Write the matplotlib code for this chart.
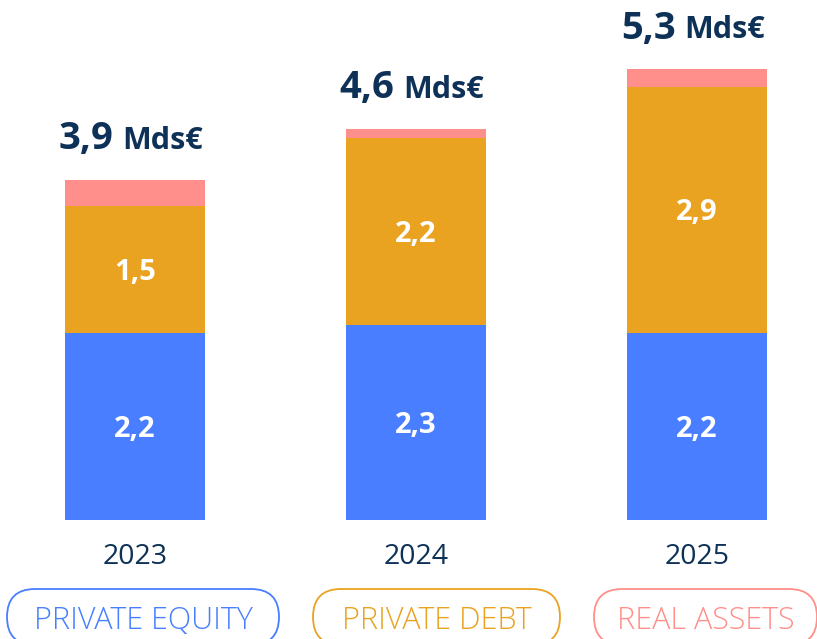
import matplotlib
matplotlib.use("Agg")
import matplotlib.pyplot as plt
from matplotlib.patches import FancyBboxPatch

years = ["2023", "2024", "2025"]
private_equity = [2.2, 2.3, 2.2]
private_debt = [1.5, 2.2, 2.9]
real_assets = [0.3, 0.1, 0.2]
totals = ["3,9", "4,6", "5,3"]
pe_labels = ["2,2", "2,3", "2,2"]
pd_labels = ["1,5", "2,2", "2,9"]
legend_labels = ["PRIVATE EQUITY", "PRIVATE DEBT", "REAL ASSETS"]

BLUE = "#487EFF"
ORANGE = "#E9A320"
PINK = "#FF8F8A"
NAVY = "#0E3157"
FONT = "Open Sans"

W, H = 817, 639
fig = plt.figure(figsize=(W / 100, H / 100), dpi=100)
fig.patch.set_facecolor("white")

px_per_unit = 85.0
base_y = 520
ax = fig.add_axes([0, (H - base_y) / H, 1, base_y / H])
ax.set_ylim(0, base_y / px_per_unit)
sp = 281.0
c0 = 135.0
ax.set_xlim(-c0 / sp, (W - c0) / sp)
ax.axis("off")

x = list(range(len(years)))
bw = 140 / sp
ax.bar(x, private_equity, width=bw, color=BLUE)
ax.bar(x, private_debt, width=bw, bottom=private_equity, color=ORANGE)
bottom3 = [a + b for a, b in zip(private_equity, private_debt)]
ax.bar(x, real_assets, width=bw, bottom=bottom3, color=PINK)

renderer = fig.canvas.get_renderer()
half_digit = 10.5 / px_per_unit
for i in x:
    ax.text(i, private_equity[i] / 2 - half_digit, pe_labels[i], ha="center",
            va="baseline", color="white", fontsize=21, fontweight="bold", family=FONT)
    ax.text(i, private_equity[i] + private_debt[i] / 2 - half_digit, pd_labels[i],
            ha="center", va="baseline", color="white", fontsize=21,
            fontweight="bold", family=FONT)
    top = bottom3[i] + real_assets[i]
    yb = top + 31 / px_per_unit
    t1 = ax.text(i, yb, totals[i], ha="left", va="baseline",
                 color=NAVY, fontsize=27.5, fontweight="bold", family=FONT)
    t2 = ax.text(i, yb, "Mds€", ha="left", va="baseline",
                 color=NAVY, fontsize=22, fontweight="bold", family=FONT)
    w1 = t1.get_window_extent(renderer).width / sp
    w2 = t2.get_window_extent(renderer).width / sp
    gap = 9 / sp
    start = i - 4 / sp - (w1 + gap + w2) / 2
    t1.set_x(start)
    t2.set_x(start + w1 + gap)
    ax.text(i, -37 / px_per_unit, years[i], ha="center", va="center",
            color=NAVY, fontsize=20.5, family=FONT, clip_on=False)

# legend pills (overlay axes in pixel units, y measured upward)
ov = fig.add_axes([0, 0, 1, 1])
ov.set_xlim(0, W)
ov.set_ylim(0, H)
ov.axis("off")
pills = [(6, 280), (312, 561), (593, 818)]
colors = [BLUE, ORANGE, PINK]
pill_top, pill_h = 589, 56
for (x0, x1), col, lab in zip(pills, colors, legend_labels):
    p = FancyBboxPatch((x0 + 1, H - pill_top - pill_h), x1 - x0 - 2, pill_h,
                       boxstyle="round,pad=0,rounding_size=28",
                       fc="none", ec=col, lw=1.3, clip_on=False)
    ov.add_patch(p)
    ov.text((x0 + x1) / 2, H - 621, lab, ha="center", va="center", color=col,
            fontsize=22, fontweight="light", family=FONT)

fig.savefig("out.png", dpi=100)
